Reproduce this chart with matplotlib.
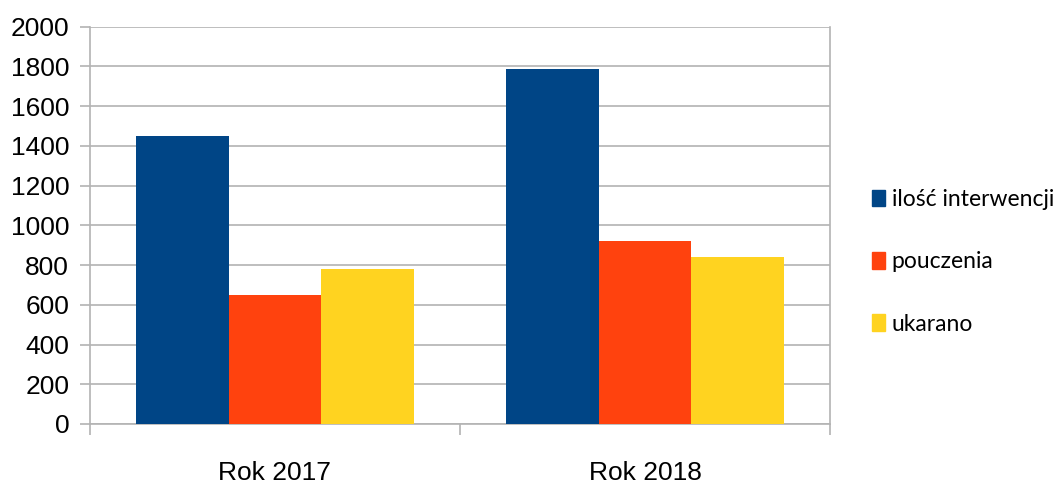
import numpy as np
import matplotlib.pyplot as plt
from matplotlib.patches import Patch

categories = ["Rok 2017", "Rok 2018"]
series = ["ilość interwencji", "pouczenia", "ukarano"]
interwencje = [1450, 1785]
pouczenia = [650, 920]
ukarano = [780, 840]
colors = ["#004586", "#ff420e", "#ffd320"]

plt.rcParams['font.family'] = ['Liberation Sans', 'DejaVu Sans']

fig = plt.figure(figsize=(10.61, 4.84), dpi=100)
ax = fig.add_axes([0.0848, 0.124, 0.6975, 0.821])

x = np.arange(len(categories))
w = 0.25
for i, vals in enumerate([interwencje, pouczenia, ukarano]):
    ax.bar(x + (i - 1) * w, vals, w, color=colors[i], zorder=3)

ax.set_xlim(-0.5, 1.5)
ax.set_ylim(0, 2000)
ax.set_yticks(np.arange(0, 2001, 200))
ax.set_xticks(x)
ax.set_xticklabels(categories)
ax.set_xticks([-0.5, 0.5, 1.5], minor=True)
ax.grid(axis="y", color="#b3b3b3", linewidth=1.2, zorder=0)
ax.spines["top"].set_visible(False)
for s in ["left", "right", "bottom"]:
    ax.spines[s].set_color("#b3b3b3")
    ax.spines[s].set_linewidth(1.2)
ax.tick_params(axis="y", length=7, color="#b3b3b3", width=1.2, pad=8, labelsize=19)
ax.tick_params(axis="x", which="major", length=0, pad=27, labelsize=19)
ax.tick_params(axis="x", which="minor", length=8, color="#b3b3b3", width=1.2)

handles = [Patch(color=c) for c in colors]
fig.legend(handles, series, loc="center left", bbox_to_anchor=(0.822, 0.459),
           frameon=False, borderpad=0, borderaxespad=0,
           handlelength=0.55, handleheight=0.75,
           handletextpad=0.3, labelspacing=1.8,
           prop={'family': ['Lato', 'DejaVu Sans'], 'size': 16.5})

fig.savefig("out.png", dpi=100)
